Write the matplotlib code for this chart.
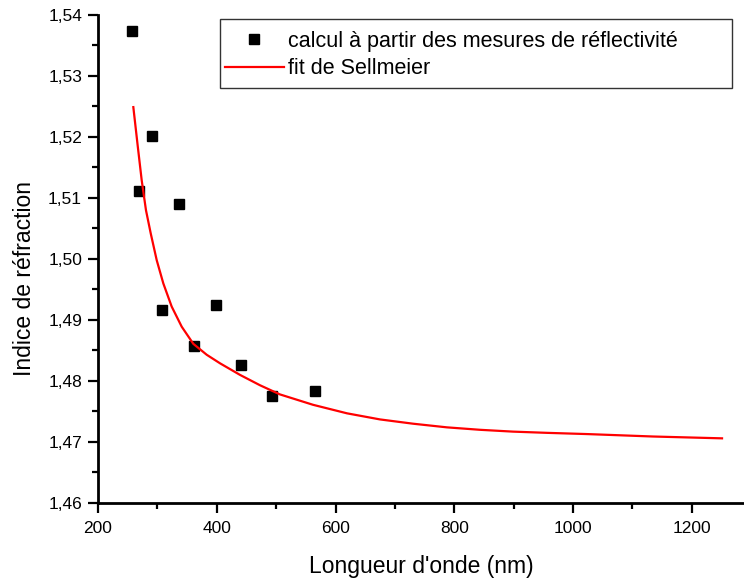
import matplotlib

matplotlib.use("Agg")
import matplotlib.pyplot as plt
from matplotlib.patches import Rectangle
from matplotlib.ticker import MultipleLocator, FuncFormatter

plt.rcParams["font.family"] = ["Liberation Sans", "DejaVu Sans"]

# measured points (wavelength nm, refractive index)
meas_wl = [256.7, 269.0, 290.4, 307.3, 336.4, 361.7, 399.3, 440.9, 493.6, 565.5]
meas_n = [1.5373, 1.5112, 1.5202, 1.4916, 1.5090, 1.4858, 1.4925, 1.4826, 1.4775, 1.4784]

# Sellmeier fit curve
fit_wl = [259.5, 266.7, 273.6, 280.8, 288.8, 298.9, 310.0, 324.1, 341.0, 360.5,
          383.1, 405.5, 439.2, 472.9, 506.5, 562.1, 619.4, 675.0, 730.6, 787.8,
          843.4, 899.0, 956.3, 1023.6, 1134.8, 1251.0]
fit_n = [1.5249, 1.5187, 1.5129, 1.5080, 1.5042, 1.4998, 1.4960, 1.4922, 1.4889, 1.4861,
         1.4843, 1.4829, 1.4810, 1.4793, 1.4778, 1.4761, 1.4747, 1.4737, 1.4730, 1.4724,
         1.4720, 1.4717, 1.4715, 1.4713, 1.4709, 1.4706]

x_label = "Longueur d'onde (nm)"
y_label = "Indice de réfraction"
legend_labels = ["calcul à partir des mesures de réflectivité", "fit de Sellmeier"]

fig = plt.figure(figsize=(7.44, 5.78), dpi=100)
ax = fig.add_axes([98 / 744, 75 / 578, 646 / 744, 488 / 578])

ax.plot(meas_wl, meas_n, "s", color="black", markersize=7.2, label=legend_labels[0])
ax.plot(fit_wl, fit_n, "-", color="red", linewidth=1.6, solid_joinstyle="round",
        label=legend_labels[1])

ax.set_xlim(200, 1288)
ax.set_ylim(1.46, 1.54)
ax.xaxis.set_major_locator(MultipleLocator(200))
ax.xaxis.set_minor_locator(MultipleLocator(100))
ax.yaxis.set_major_locator(MultipleLocator(0.01))
ax.yaxis.set_minor_locator(MultipleLocator(0.005))
ax.yaxis.set_major_formatter(FuncFormatter(lambda v, p: f"{v:.2f}".replace(".", ",")))

for side in ["top", "right"]:
    ax.spines[side].set_visible(False)
for side in ["left", "bottom"]:
    ax.spines[side].set_linewidth(2)

ax.tick_params(which="major", direction="out", length=7, width=1.6, labelsize=12.5, pad=4.5)
ax.tick_params(axis="x", which="major", pad=6)
ax.tick_params(which="minor", direction="out", length=4.5, width=1.6)

ax.set_xlabel(x_label, fontsize=16.5, labelpad=14)
ax.set_ylabel(y_label, fontsize=16.5, labelpad=9, y=0.46)

# Origin-style legend: the box is wider than its content, so draw it separately
ax.legend(loc="upper left", bbox_to_anchor=(213 / 744, 1 - 19 / 578),
          bbox_transform=fig.transFigure, fontsize=15.5, frameon=False,
          handlelength=2.75, handletextpad=0.2, borderpad=0.55,
          labelspacing=0.3, borderaxespad=0)
fig.patches.append(Rectangle((220 / 744, 1 - 88 / 578), 512 / 744, 69 / 578,
                             transform=fig.transFigure, fill=False,
                             edgecolor="#333333", linewidth=1))

fig.savefig("out.png", dpi=100)
